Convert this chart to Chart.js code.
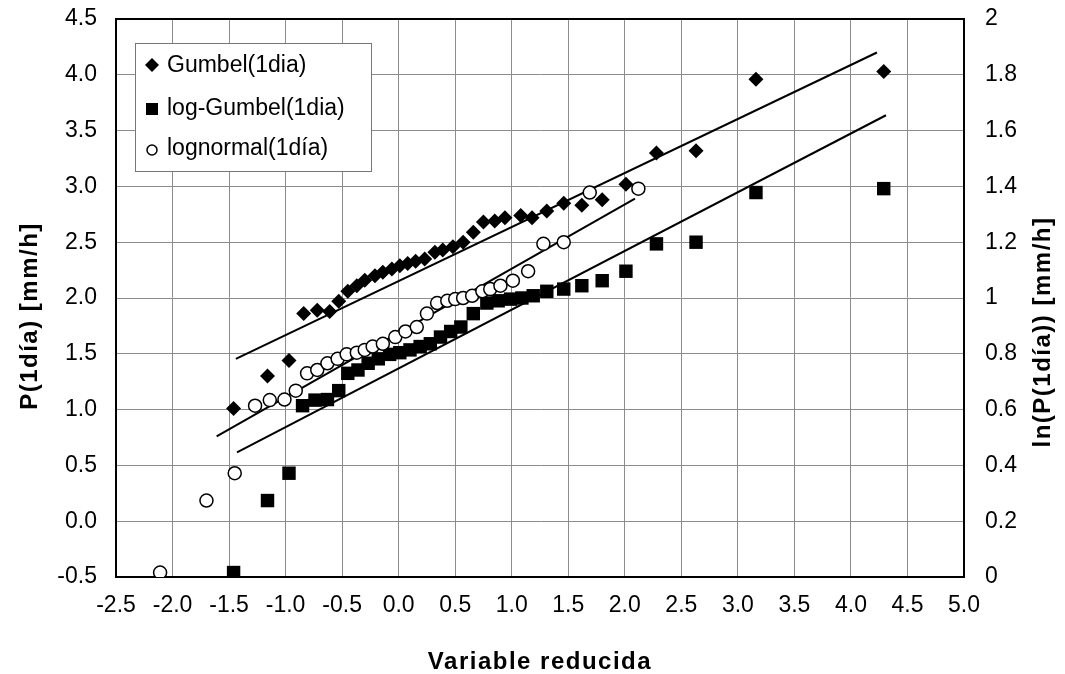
<!DOCTYPE html>
<html lang="es">
<head>
  <meta charset="UTF-8" />
  <title>Variable reducida</title>
  <script src="https://cdn.jsdelivr.net/npm/chart.js"></script>
  <style>
    html, body { margin: 0; padding: 0; background: #fff; }
    #wrap { width: 1065px; height: 674px; }
  </style>
</head>
<body>
  <div id="wrap"><canvas id="grafico"></canvas></div>

  <script>
    // Gumbel: variable reducida vs P(1dia) [mm/h] (eje izquierdo)
    const zGumbel = [-1.46, -1.16, -0.97, -0.84, -0.72, -0.61, -0.53, -0.45, -0.37, -0.30, -0.21, -0.14,
      -0.06, 0.01, 0.08, 0.15, 0.23, 0.32, 0.39, 0.48, 0.57, 0.66, 0.75, 0.85, 0.94, 1.08, 1.18, 1.31,
      1.46, 1.62, 1.80, 2.01, 2.28, 2.63, 3.16, 4.29];
    const pGumbel = [1.01, 1.30, 1.44, 1.86, 1.89, 1.88, 1.97, 2.06, 2.11, 2.16, 2.20, 2.23,
      2.26, 2.29, 2.31, 2.33, 2.35, 2.41, 2.43, 2.46, 2.50, 2.59, 2.68, 2.69, 2.72, 2.74, 2.72, 2.78,
      2.85, 2.83, 2.88, 3.02, 3.30, 3.32, 3.96, 4.03];

    // log-Gumbel y lognormal: ln(P(1dia)) (eje derecho)
    const zLogGumbel = [-1.46, -1.16, -0.97, -0.85, -0.74, -0.63, -0.53, -0.45, -0.36, -0.27, -0.18, -0.08,
      0.01, 0.10, 0.19, 0.28, 0.37, 0.46, 0.55, 0.66, 0.78, 0.88, 0.99, 1.09, 1.19, 1.31,
      1.46, 1.62, 1.80, 2.01, 2.28, 2.63, 3.16, 4.29];
    const zLognormal = [-2.11, -1.70, -1.45, -1.27, -1.14, -1.01, -0.91, -0.81, -0.72, -0.63, -0.54, -0.46,
      -0.37, -0.30, -0.23, -0.14, -0.03, 0.06, 0.16, 0.25, 0.34, 0.43, 0.50, 0.57, 0.65, 0.74,
      0.81, 0.90, 1.01, 1.145, 1.28, 1.46, 1.69, 2.12];
    const lnP = [0.016, 0.274, 0.372, 0.614, 0.634, 0.636, 0.668, 0.730, 0.742, 0.766, 0.782, 0.798,
      0.804, 0.814, 0.826, 0.836, 0.860, 0.880, 0.896, 0.944, 0.982, 0.990, 0.996, 1.000, 1.008, 1.024,
      1.032, 1.044, 1.062, 1.096, 1.194, 1.200, 1.378, 1.392];

    // rectas de ajuste (extremos)
    const ajusteGumbelX = [-1.44, 4.23];
    const ajusteGumbelY = [1.455, 4.20];
    const ajusteLogGumbelX = [-1.43, 4.31];
    const ajusteLogGumbelY = [0.447, 1.655];
    const ajusteLognormalX = [-1.61, 2.09];
    const ajusteLognormalY = [0.504, 1.356];

    const etiquetas = ['Gumbel(1dia)', 'log-Gumbel(1dia)', 'lognormal(1día)'];
    const tituloX = 'Variable reducida';
    const tituloY = 'P(1día) [mm/h]';
    const tituloY2 = 'ln(P(1día)) [mm/h]';

    const FUENTE = 'Arial, "Liberation Sans", sans-serif';
    const pares = (xs, ys) => xs.map((x, i) => ({ x: x, y: ys[i] }));

    const recta = (xs, ys, eje) => ({
      label: '', data: pares(xs, ys), yAxisID: eje, showLine: true,
      borderColor: '#000', borderWidth: 2, pointRadius: 0, fill: false, order: 2
    });

    const extras = {
      id: 'extras',
      afterDraw(chart) {
        const { ctx, chartArea: a } = chart;
        ctx.save();
        // borde superior del area
        ctx.strokeStyle = '#000';
        ctx.lineWidth = 2;
        ctx.beginPath();
        ctx.moveTo(a.left - 1, a.top);
        ctx.lineTo(a.right + 1, a.top);
        ctx.stroke();

        // leyenda dentro del grafico
        ctx.fillStyle = '#fff';
        ctx.fillRect(135, 43, 236, 128);
        ctx.strokeStyle = '#777';
        ctx.lineWidth = 1;
        ctx.strokeRect(135.5, 43.5, 236, 128);
        const filas = [65, 108, 148];
        ctx.font = '23px ' + FUENTE;
        ctx.textBaseline = 'middle';
        filas.forEach((fy, i) => {
          const mx = 152;
          ctx.fillStyle = '#000';
          ctx.strokeStyle = '#000';
          ctx.lineWidth = 1.5;
          if (i === 0) {
            ctx.beginPath();
            ctx.moveTo(mx - 7, fy); ctx.lineTo(mx, fy - 7); ctx.lineTo(mx + 7, fy); ctx.lineTo(mx, fy + 7);
            ctx.closePath(); ctx.fill();
          } else if (i === 1) {
            ctx.fillRect(mx - 6, fy - 5, 12, 12);
          } else {
            ctx.beginPath(); ctx.arc(mx, fy + 2, 5, 0, Math.PI * 2);
            ctx.fillStyle = '#fff'; ctx.fill(); ctx.stroke();
            ctx.fillStyle = '#000';
          }
          ctx.fillText(etiquetas[i], 167, fy + 1);
        });

        // titulos de ejes
        ctx.fillStyle = '#000';
        ctx.font = 'bold 24px ' + FUENTE;
        ctx.letterSpacing = '1.5px';
        ctx.textAlign = 'center';
        ctx.textBaseline = 'middle';
        ctx.fillText(tituloX, (a.left + a.right) / 2, 662);
        ctx.save();
        ctx.translate(30, 316);
        ctx.rotate(-Math.PI / 2);
        ctx.fillText(tituloY, 0, 0);
        ctx.restore();
        ctx.save();
        ctx.translate(1043, 332);
        ctx.rotate(-Math.PI / 2);
        ctx.fillText(tituloY2, 0, 0);
        ctx.restore();
        ctx.restore();
      }
    };

    const grid = { color: '#8c8c8c', lineWidth: 1, drawTicks: false };
    const borde = { display: true, color: '#000', width: 2 };
    const letra = { family: FUENTE, size: 23 };

    // anchos fijos de los ejes y sin relleno extra arriba/abajo
    const fijarAncho = w => s => { s.width = w; s.paddingTop = 0; s.paddingBottom = 0; };

    new Chart(document.getElementById('grafico'), {
      type: 'scatter',
      data: {
        datasets: [
          {
            label: etiquetas[0], data: pares(zGumbel, pGumbel), yAxisID: 'y',
            pointStyle: 'rectRot', pointRadius: 7.5, backgroundColor: '#000', borderColor: '#000',
            borderWidth: 0, order: 1
          },
          {
            label: etiquetas[1], data: pares(zLogGumbel, lnP), yAxisID: 'y2',
            pointStyle: 'rect', pointRadius: 9.5, backgroundColor: '#000', borderColor: '#000',
            borderWidth: 0, order: 1
          },
          {
            label: etiquetas[2], data: pares(zLognormal, lnP), yAxisID: 'y2',
            pointStyle: 'circle', pointRadius: 6.5, backgroundColor: '#fff', borderColor: '#000',
            borderWidth: 1.5, order: 0
          },
          recta(ajusteGumbelX, ajusteGumbelY, 'y'),
          recta(ajusteLogGumbelX, ajusteLogGumbelY, 'y2'),
          recta(ajusteLognormalX, ajusteLognormalY, 'y2')
        ]
      },
      options: {
        responsive: true,
        maintainAspectRatio: false,
        animation: false,
        layout: { padding: { top: 19, left: 0, right: 0, bottom: 0 } },
        plugins: { legend: { display: false }, tooltip: { enabled: false } },
        scales: {
          x: {
            type: 'linear', min: -2.5, max: 5, grid: grid, border: borde,
            ticks: { stepSize: 0.5, color: '#000', font: letra, padding: 15, callback: v => v.toFixed(1) },
            afterFit: s => { s.height = 97; s.paddingLeft = 0; s.paddingRight = 0; }
          },
          y: {
            type: 'linear', position: 'left', min: -0.5, max: 4.5, grid: grid, border: borde,
            ticks: { stepSize: 0.5, color: '#000', font: letra, padding: 19, callback: v => v.toFixed(1) },
            afterFit: fijarAncho(116)
          },
          y2: {
            type: 'linear', position: 'right', min: 0, max: 2,
            grid: { display: false, drawTicks: false }, border: borde,
            ticks: { stepSize: 0.2, color: '#000', font: letra, padding: 21, callback: v => String(+v.toFixed(1)) },
            afterFit: fijarAncho(101)
          }
        }
      },
      plugins: [extras]
    });
  </script>
</body>
</html>
